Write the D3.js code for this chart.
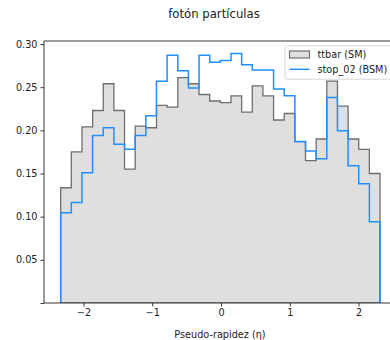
<!DOCTYPE html>
<html>
<head>
<meta charset="utf-8">
<script src="https://cdn.jsdelivr.net/npm/d3@7"></script>
<style>
  html, body { margin: 0; padding: 0; background: #fff; }
  svg { display: block; font-family: "DejaVu Sans", sans-serif; }
</style>
</head>
<body>
<svg id="chart" width="390" height="340"></svg>
<script>
// Histogram binning over pseudo-rapidity
const etaMin = -2.332;
const etaMax = 2.313;
const nBins = 30;

// Normalised counts per bin
const ttbarSM = [0.1335, 0.175, 0.204, 0.223, 0.254, 0.223, 0.155, 0.205, 0.203, 0.229,
                 0.227, 0.261, 0.254, 0.2415, 0.234, 0.232, 0.240, 0.221, 0.2515, 0.240,
                 0.212, 0.2195, 0.187, 0.165, 0.190, 0.257, 0.228, 0.190, 0.178, 0.150];
const stop02BSM = [0.1045, 0.1165, 0.151, 0.194, 0.203, 0.184, 0.178, 0.194, 0.217, 0.257,
                   0.287, 0.269, 0.249, 0.287, 0.279, 0.281, 0.289, 0.276, 0.270, 0.270,
                   0.248, 0.240, 0.187, 0.176, 0.167, 0.238, 0.1995, 0.159, 0.138, 0.094];

const xTicks = [-2, -1, 0, 1, 2];
const yTicks = [0, 0.05, 0.10, 0.15, 0.20, 0.25, 0.30];
const seriesNames = ["ttbar (SM)", "stop_02 (BSM)"];
const titleText = "fotón partículas";
const xLabelText = "Pseudo-rapidez (η)";

const svg = d3.select("#chart");
const W = 390, H = 340;
const plot = { left: 44, top: 41, right: 395.7, bottom: 303 };

const x = d3.scaleLinear().domain([-2.5745, 2.541]).range([plot.left, plot.right]);
const y = d3.scaleLinear().domain([0, 0.3035]).range([plot.bottom, plot.top]);

const edges = d3.range(nBins + 1).map(i => etaMin + (etaMax - etaMin) * i / nBins);

// Step outline from the baseline, across every bin and back down
function stepPoints(values) {
  const pts = [[edges[0], 0]];
  values.forEach((v, i) => { pts.push([edges[i], v]); pts.push([edges[i + 1], v]); });
  pts.push([edges[nBins], 0]);
  return pts;
}
const line = d3.line().x(d => x(d[0])).y(d => y(d[1]));

svg.append("defs").append("clipPath").attr("id", "plotClip")
  .append("rect").attr("x", plot.left).attr("y", plot.top)
  .attr("width", plot.right - plot.left).attr("height", plot.bottom - plot.top);

const g = svg.append("g").attr("clip-path", "url(#plotClip)");

g.append("path")
  .attr("d", line(stepPoints(ttbarSM)) + "Z")
  .attr("fill", "#dfdfdf")
  .attr("stroke", "#6e6e6e")
  .attr("stroke-width", 1.3)
  .attr("stroke-linejoin", "miter");

g.append("path")
  .attr("d", line(stepPoints(stop02BSM)))
  .attr("fill", "none")
  .attr("stroke", "#1e90ff")
  .attr("stroke-width", 1.5)
  .attr("stroke-linejoin", "miter");

// Axes
const xAxis = d3.axisBottom(x).tickValues(xTicks).tickSize(3.5).tickPadding(3)
  .tickFormat(d3.format("d"));
const yAxis = d3.axisLeft(y).tickValues(yTicks).tickSize(3.5).tickPadding(3)
  .tickFormat(d => d === 0 ? "" : d3.format(".2f")(d));

const gx = svg.append("g").attr("transform", `translate(0,${plot.bottom})`).call(xAxis);
const gy = svg.append("g").attr("transform", `translate(${plot.left},0)`).call(yAxis);
[gx, gy].forEach(a => {
  a.select(".domain").remove();
  a.selectAll(".tick line").attr("stroke", "#222").attr("stroke-width", 0.9);
  a.selectAll(".tick text").attr("fill", "#222").attr("font-size", 9.7)
    .attr("font-family", "DejaVu Sans, sans-serif");
});

// Spines (left, bottom, top; the right one falls outside the canvas)
svg.append("path")
  .attr("d", `M${plot.left},${plot.top}V${plot.bottom}H${plot.right}M${plot.left},${plot.top}H${plot.right}`)
  .attr("fill", "none").attr("stroke", "#222").attr("stroke-width", 0.9);

// Title and axis label
svg.append("text").attr("x", 214).attr("y", 17.5).attr("text-anchor", "middle")
  .attr("font-size", 11.7).attr("fill", "#222").text(titleText);
svg.append("text").attr("x", 220).attr("y", 337.5).attr("text-anchor", "middle")
  .attr("font-size", 9.7).attr("fill", "#222").text(xLabelText);

// Legend
const lg = svg.append("g");
lg.append("rect").attr("x", 285).attr("y", 45.7).attr("width", 120).attr("height", 33.5)
  .attr("rx", 2.5).attr("fill", "#fff").attr("fill-opacity", 0.8)
  .attr("stroke", "#d0d0d0").attr("stroke-width", 0.9);
lg.append("rect").attr("x", 289.5).attr("y", 51).attr("width", 20).attr("height", 7)
  .attr("fill", "#dfdfdf").attr("stroke", "#6e6e6e").attr("stroke-width", 1.2);
lg.append("line").attr("x1", 289.5).attr("x2", 309.5).attr("y1", 69.3).attr("y2", 69.3)
  .attr("stroke", "#1e90ff").attr("stroke-width", 1.5);
lg.append("text").attr("x", 317.5).attr("y", 58).attr("font-size", 9.7).attr("fill", "#222")
  .text(seriesNames[0]);
lg.append("text").attr("x", 317.5).attr("y", 72.7).attr("font-size", 9.7).attr("fill", "#222")
  .text(seriesNames[1]);
</script>
</body>
</html>
